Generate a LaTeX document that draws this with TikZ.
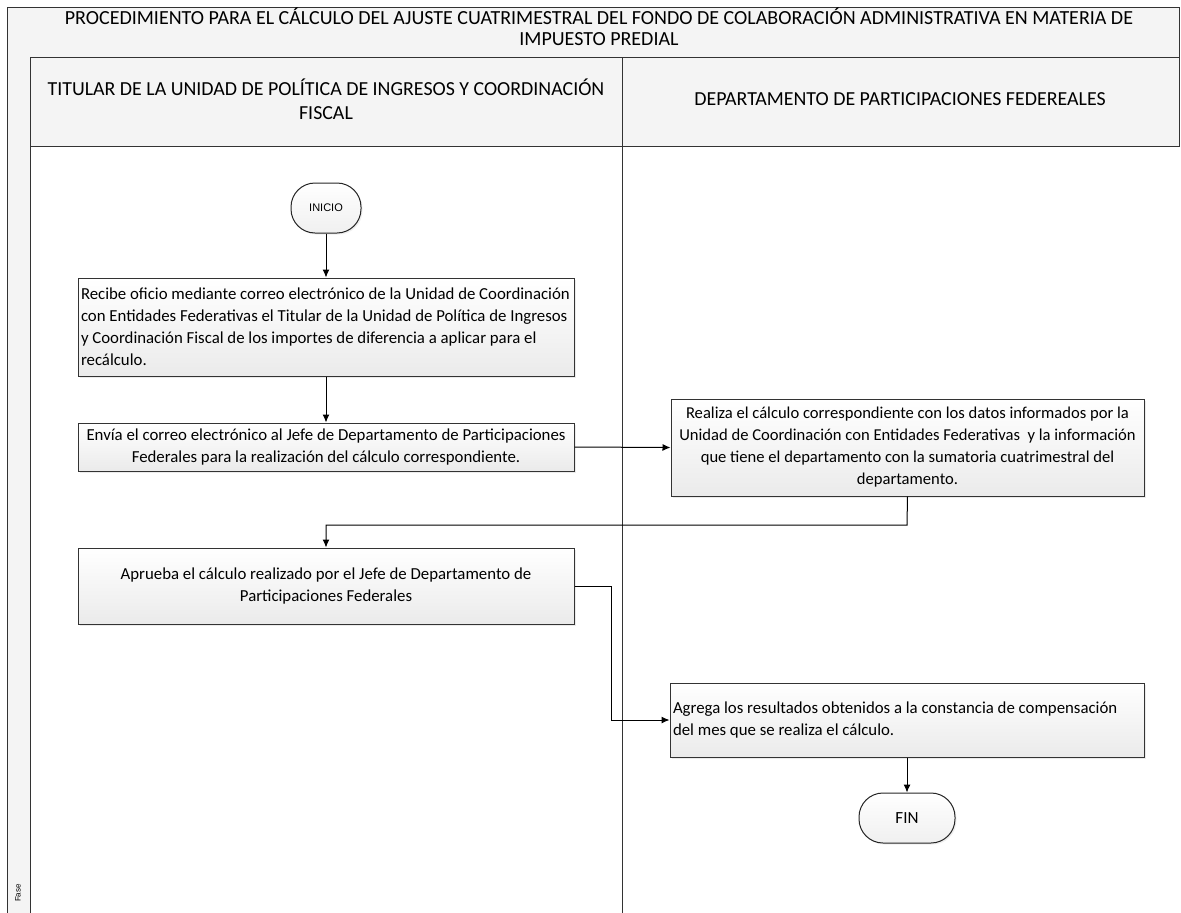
\documentclass[tikz,border=0pt]{standalone}
\usepackage{fontspec}
\setmainfont{Carlito}
\newfontfamily\arialfont{Liberation Sans}
\usetikzlibrary{arrows.meta,shadows}
\begin{document}
\begin{tikzpicture}[x=1pt,y=-1pt,
  frame/.style={draw=black!80, line width=1pt},
  hdr/.style={frame, fill=gray!9},
  hdrtext/.style={align=center, inner sep=0pt},
  procbox/.style={draw=black!80, line width=1pt, top color=white, bottom color=gray!16,
    drop shadow={shadow xshift=2pt, shadow yshift=-2pt, fill=gray!25, opacity=0.6},
    font=\fontsize{16.8}{22}\selectfont, inner sep=3pt, anchor=center},
  term/.style={draw=black!85, line width=1pt, rounded corners=24pt, top color=white, bottom color=gray!12,
    drop shadow={shadow xshift=1.5pt, shadow yshift=-1.5pt, fill=gray!25, opacity=0.5},
    anchor=center, inner sep=0pt},
  arr/.style={draw=black, line width=1pt, -{Latex[length=8pt,width=7pt]}}
]
\useasboundingbox (0,0) rectangle (1181,913);
\fill[white] (0,0) rectangle (1181,913);

% frame: title row, header row, phase strip, lanes
\path[hdr] (7,7) rectangle (1179,57);
\path[hdr] (7,57) -- (7,913) -- (30,913) -- (30,57);
\path[hdr] (30,57) rectangle (622,146);
\path[hdr] (622,57) rectangle (1179,146);
\draw[frame] (7,57) -- (7,913);
\draw[frame] (30,146) -- (30,913);
\draw[frame] (622,146) -- (622,913);

\node[hdrtext, font=\fontsize{20}{21}\selectfont] (title) at (599,27) {PROCEDIMIENTO PARA EL CÁLCULO DEL AJUSTE CUATRIMESTRAL DEL FONDO DE COLABORACIÓN ADMINISTRATIVA EN MATERIA DE\\IMPUESTO PREDIAL};
\node[hdrtext, font=\fontsize{19.9}{24}\selectfont] (lane1) at (326,99) {TITULAR DE LA UNIDAD DE POLÍTICA DE INGRESOS Y COORDINACIÓN\\FISCAL};
\node[hdrtext, font=\fontsize{19.9}{24}\selectfont] (lane2) at (900,99) {DEPARTAMENTO DE PARTICIPACIONES FEDEREALES};
\node[font=\arialfont\fontsize{8}{9}\selectfont, rotate=90, inner sep=0pt] (fase) at (18,893) {Fase};

% terminals
\node[term, minimum width=70pt, minimum height=50pt, font=\arialfont\fontsize{11}{12}\selectfont] (inicio) at (326,208) {INICIO};
\node[term, minimum width=96pt, minimum height=50pt, font=\fontsize{17}{18}\selectfont] (fin) at (907,818) {FIN};

% process boxes
\node[procbox, text width=490pt, minimum height=98pt, align=flush left] (b1) at (326,327) {Recibe oficio mediante correo electrónico de la Unidad de Coordinación\\con Entidades Federativas el Titular de la Unidad de Política de Ingresos\\y Coordinación Fiscal de los importes de diferencia a aplicar para el\\recálculo.};
\node[procbox, minimum width=496pt, minimum height=48pt, align=center] (b2) at (326,447) {Envía el correo electrónico al Jefe de Departamento de Participaciones\\Federales para la realización del cálculo correspondiente.};
\node[procbox, minimum width=473pt, minimum height=97pt, align=center, font=\fontsize{16.6}{22}\selectfont] (b3) at (907.5,447.5) {Realiza el cálculo correspondiente con los datos informados por la\\Unidad de Coordinación con Entidades Federativas\ \ y la información\\que tiene el departamento con la sumatoria cuatrimestral del\\departamento.};
\node[procbox, minimum width=496pt, minimum height=76pt, align=center] (b4) at (326,586) {Aprueba el cálculo realizado por el Jefe de Departamento de\\Participaciones Federales};
\node[procbox, text width=468pt, minimum height=74pt, align=flush left] (b5) at (907,720) {Agrega los resultados obtenidos a la constancia de compensación\\del mes que se realiza el cálculo.};

% connectors
\coordinate (j1) at (907,525);
\coordinate (j2) at (326,525);
\coordinate (j3) at (611,586);
\coordinate (j4) at (611,720);

\draw[arr] (inicio.south) -- (b1.north);
\draw[arr] (b1.south) -- (b2.north);
\draw[arr] (b2.east) -- (b3.west);
\draw[arr] (b3.south) -- (j1) -- (j2) -- (b4.north);
\draw[arr] (b4.east) -- (j3) -- (j4) -- (b5.west);
\draw[arr] (b5.south) -- (fin.north);
\end{tikzpicture}
\end{document}
